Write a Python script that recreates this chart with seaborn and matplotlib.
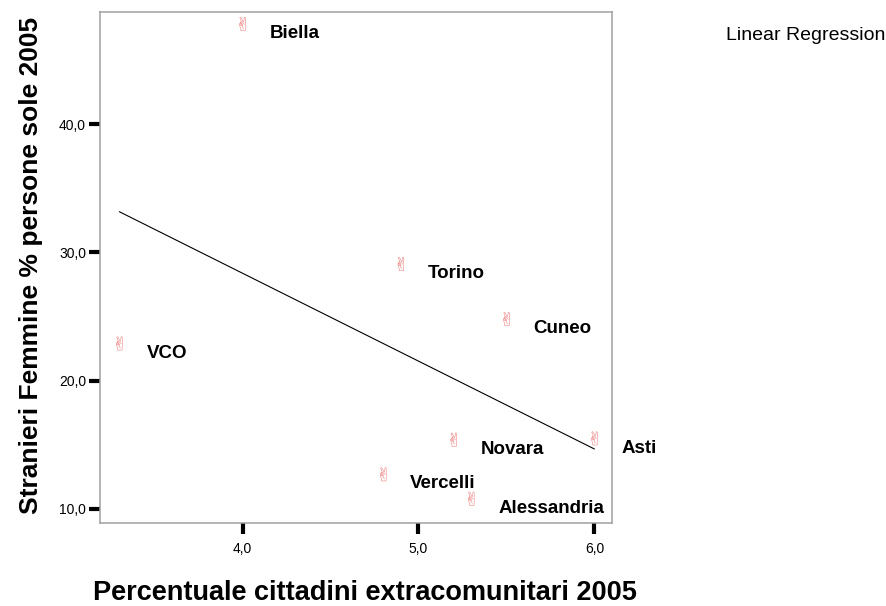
import pandas as pd
import numpy as np
import matplotlib
matplotlib.use('Agg')
import matplotlib.pyplot as plt
import seaborn as sb

# values
province = ['Biella', 'Torino', 'Cuneo', 'VCO', 'Novara', 'Asti', 'Vercelli', 'Alessandria']
extracom = [4.0, 4.9, 5.5, 3.3, 5.2, 6.0, 4.8, 5.3]
femmine_sole = [47.8, 29.1, 24.8, 22.9, 15.4, 15.5, 12.7, 10.8]

x_ticks = [4.0, 5.0, 6.0]
y_ticks = [10.0, 20.0, 30.0, 40.0]

df = pd.DataFrame({'prov': province, 'x': extracom, 'y': femmine_sole})

sb.set_style('white')
plt.rcParams['font.family'] = ['Liberation Sans', 'DejaVu Sans']
plt.rcParams['text.color'] = 'black'
plt.rcParams['axes.labelcolor'] = 'black'
plt.rcParams['xtick.color'] = 'black'
plt.rcParams['ytick.color'] = 'black'

fig = plt.figure(figsize=(8.87, 6.06), dpi=100)
ax = fig.add_axes([100/887, 83/606, 512/887, 511/606])

# regression line
sb.regplot(data=df, x='x', y='y', ax=ax, scatter=False, ci=None, truncate=True,
           line_kws={'color': 'black', 'lw': 0.8})
# points
sb.scatterplot(data=df, x='x', y='y', ax=ax, marker='$\u270C$', s=100,
               color='#ee8080', edgecolor='none', linewidth=0)

for i, row in df.iterrows():
    ax.annotate(row['prov'], (row['x'], row['y']), xytext=(19.5, -7),
                textcoords='offset points', fontsize=13.5, fontweight='bold',
                ha='left', va='center')

ax.set_xlim(3.19, 6.10)
ax.set_ylim(8.9, 48.73)
ax.set_xticks(x_ticks)
ax.set_yticks(y_ticks)
ax.set_xticklabels([f'{v:.1f}'.replace('.', ',') for v in x_ticks])
ax.set_yticklabels([f'{v:.1f}'.replace('.', ',') for v in y_ticks])
ax.tick_params(axis='both', bottom=True, left=True, direction='out', length=8,
               width=3, labelsize=10, pad=2)
ax.tick_params(axis='x', pad=6)
for s in ax.spines.values():
    s.set_color('#a0a0a0')
    s.set_linewidth(1.1)

ax.set_xlabel('Percentuale cittadini extracomunitari 2005', fontsize=19.5,
              fontweight='bold')
ax.xaxis.set_label_coords(0.518, -0.111)
ax.set_ylabel('Stranieri Femmine % persone sole 2005', fontsize=19,
              fontweight='bold')
ax.yaxis.set_label_coords(-0.111, 0.505)

fig.text(726/887, 1 - 35/606, 'Linear Regression', fontsize=14, ha='left', va='center')

plt.savefig('out.png', dpi=100)
